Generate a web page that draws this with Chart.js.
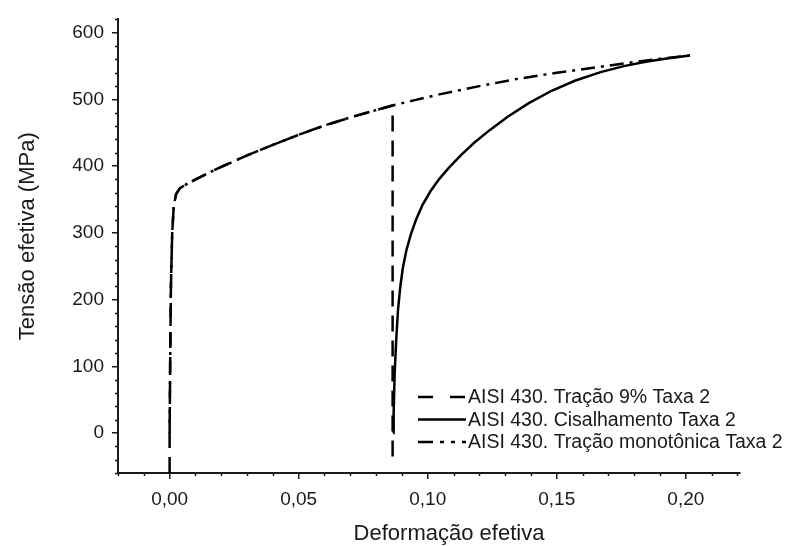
<!DOCTYPE html>
<html>
<head>
<meta charset="utf-8">
<script src="https://cdn.jsdelivr.net/npm/chart.js@4/dist/chart.umd.min.js"></script>
<style>
  html, body { margin: 0; padding: 0; background: #ffffff; }
  #wrap { width: 800px; height: 546px; position: relative; }
</style>
</head>
<body>
<div id="wrap"><canvas id="chart"></canvas></div>
<script>
// Curva de tração monotônica (deformação efetiva, tensão efetiva em MPa)
const monoStrain = [0, 0.0002, 0.0005, 0.0010, 0.0016, 0.0025, 0.0040, 0.0070, 0.0120, 0.0200,
  0.0300, 0.0400, 0.0500, 0.0600, 0.0700, 0.0800, 0.0864, 0.0950, 0.1050, 0.1200,
  0.1350, 0.1500, 0.1650, 0.1800, 0.1900, 0.2016];
const monoStress = [0, 100, 220, 300, 340, 358, 367, 374, 384, 399,
  416, 432, 447, 461, 473, 484, 491, 499, 508, 520,
  531, 540, 548, 556, 561, 566];

// Pré-deformação de 9% em tração, seguida de descarregamento
const pre9Strain = [0, 0, 0.0002, 0.0005, 0.0010, 0.0016, 0.0025, 0.0040, 0.0070, 0.0120, 0.0200,
  0.0300, 0.0400, 0.0500, 0.0600, 0.0700, 0.0800, 0.0864, 0.0864];
const pre9Stress = [-60, 0, 100, 220, 300, 340, 358, 367, 374, 384, 399,
  416, 432, 447, 461, 473, 484, 491, -37];

// Recarregamento em cisalhamento
const shearStrain = [0.0866, 0.0868, 0.0872, 0.0878, 0.0885, 0.0894, 0.0904, 0.0918, 0.0935, 0.0955,
  0.0980, 0.1010, 0.1045, 0.1085, 0.1130, 0.1180, 0.1240, 0.1310, 0.1390, 0.1480,
  0.1570, 0.1670, 0.1760, 0.1850, 0.1940, 0.2016];
const shearStress = [0, 30, 90, 140, 185, 220, 248, 275, 298, 320,
  342, 362, 381, 399, 417, 435, 454, 474, 494, 513,
  528, 541, 550, 557, 562, 566];

const seriesLabels = [
  'AISI 430. Tração 9% Taxa 2',
  'AISI 430. Cisalhamento Taxa 2',
  'AISI 430. Tração monotônica Taxa 2'
];

const xTicks = [0, 0.05, 0.10, 0.15, 0.20];
const yTicks = [0, 100, 200, 300, 400, 500, 600];
const xTitle = 'Deformação efetiva';
const yTitle = 'Tensão efetiva (MPa)';

const toPoints = (xs, ys) => xs.map((x, i) => ({ x: x, y: ys[i] }));
const FONT = '"Liberation Sans", Arial, sans-serif';
const INK = '#1a1a1a';

// Marcas secundárias dos eixos, desenhadas para fora da área do gráfico
const minorTicks = {
  id: 'minorTicks',
  afterDraw(chart, args, opts) {
    const { ctx } = chart;
    const xs = chart.scales.x, ys = chart.scales.y;
    ctx.save();
    ctx.strokeStyle = INK;
    ctx.lineWidth = 1.5;
    ctx.beginPath();
    for (let v = -60; v <= 620; v += 20) {
      if (v % 100 === 0) continue;
      const py = Math.round(ys.getPixelForValue(v)) + 0.5;
      ctx.moveTo(xs.left, py);
      ctx.lineTo(xs.left - opts.len, py);
    }
    for (let k = -2; k <= 22; k++) {
      if (k % 5 === 0) continue;
      const px = Math.round(xs.getPixelForValue(k / 100)) + 0.5;
      ctx.moveTo(px, ys.bottom);
      ctx.lineTo(px, ys.bottom + opts.len);
    }
    ctx.stroke();
    ctx.restore();
  }
};

// Títulos dos eixos
const axisTitles = {
  id: 'axisTitles',
  afterDraw(chart, args, opts) {
    const { ctx, chartArea } = chart;
    ctx.save();
    ctx.fillStyle = INK;
    ctx.font = opts.fontSize + 'px ' + FONT;
    ctx.textAlign = 'center';
    ctx.textBaseline = 'middle';
    ctx.fillText(xTitle, (chartArea.left + chartArea.right) / 2 + opts.xShift, opts.xTitleY);
    ctx.translate(opts.yTitleX, (chartArea.top + chartArea.bottom) / 2 + opts.yShift);
    ctx.rotate(-Math.PI / 2);
    ctx.fillText(yTitle, 0, 0);
    ctx.restore();
  }
};

// Legenda interna, no canto inferior direito
const insetLegend = {
  id: 'insetLegend',
  afterDraw(chart, args, opts) {
    const { ctx } = chart;
    ctx.save();
    ctx.font = opts.fontSize + 'px ' + FONT;
    ctx.textBaseline = 'middle';
    chart.data.datasets.forEach((ds, i) => {
      const y = opts.y + i * opts.rowGap;
      ctx.strokeStyle = ds.borderColor;
      ctx.lineWidth = ds.borderWidth;
      ctx.setLineDash(opts.dashes[i]);
      ctx.beginPath();
      ctx.moveTo(opts.x, y);
      ctx.lineTo(opts.x + opts.sample, y);
      ctx.stroke();
      ctx.setLineDash([]);
      ctx.fillStyle = INK;
      ctx.fillText(ds.label, opts.x + opts.sample + 2, y + 1);
    });
    ctx.restore();
  }
};

const lineStyle = { borderColor: '#000000', borderWidth: 2.5, pointRadius: 0, showLine: true,
  fill: false, tension: 0 };

new Chart(document.getElementById('chart'), {
  type: 'scatter',
  data: {
    datasets: [
      Object.assign({ label: seriesLabels[0], data: toPoints(pre9Strain, pre9Stress),
        borderDash: [16, 9] }, lineStyle),
      Object.assign({ label: seriesLabels[1], data: toPoints(shearStrain, shearStress),
        borderDash: [] }, lineStyle),
      Object.assign({ label: seriesLabels[2], data: toPoints(monoStrain, monoStress),
        borderDash: [14, 6, 3, 6] }, lineStyle)
    ]
  },
  options: {
    responsive: true,
    maintainAspectRatio: false,
    animation: false,
    layout: { padding: { left: 0, right: 60, top: 14, bottom: 0 } },
    plugins: {
      legend: { display: false },
      tooltip: { enabled: false },
      minorTicks: { len: 3 },
      axisTitles: { fontSize: 22, xShift: 20, xTitleY: 534, yTitleX: 28, yShift: -10 },
      insetLegend: {
        x: 418, y: 397, rowGap: 22.5, sample: 48, fontSize: 19.5,
        dashes: [[15, 17], [], [15, 7, 4, 7, 4, 7]]
      }
    },
    scales: {
      x: {
        type: 'linear',
        min: -0.02,
        max: 0.221,
        afterBuildTicks: s => { s.ticks = xTicks.map(v => ({ value: v })); },
        afterFit: s => { s.height = 73; },
        ticks: {
          color: INK,
          font: { family: FONT, size: 19 },
          padding: 9,
          maxRotation: 0,
          callback: v => v.toFixed(2).replace('.', ',')
        },
        grid: { drawOnChartArea: false, drawTicks: true, tickLength: 6, color: INK, lineWidth: 1.5 },
        border: { display: true, color: INK, width: 2 },
        title: { display: false }
      },
      y: {
        type: 'linear',
        min: -60,
        max: 620,
        afterBuildTicks: s => { s.ticks = yTicks.map(v => ({ value: v })); },
        afterFit: s => { s.width = 118; },
        ticks: {
          color: INK,
          font: { family: FONT, size: 19 },
          padding: 8,
          callback: v => String(v)
        },
        grid: { drawOnChartArea: false, drawTicks: true, tickLength: 6, color: INK, lineWidth: 1.5 },
        border: { display: true, color: INK, width: 2 },
        title: { display: false }
      }
    }
  },
  plugins: [minorTicks, axisTitles, insetLegend]
});
</script>
</body>
</html>
